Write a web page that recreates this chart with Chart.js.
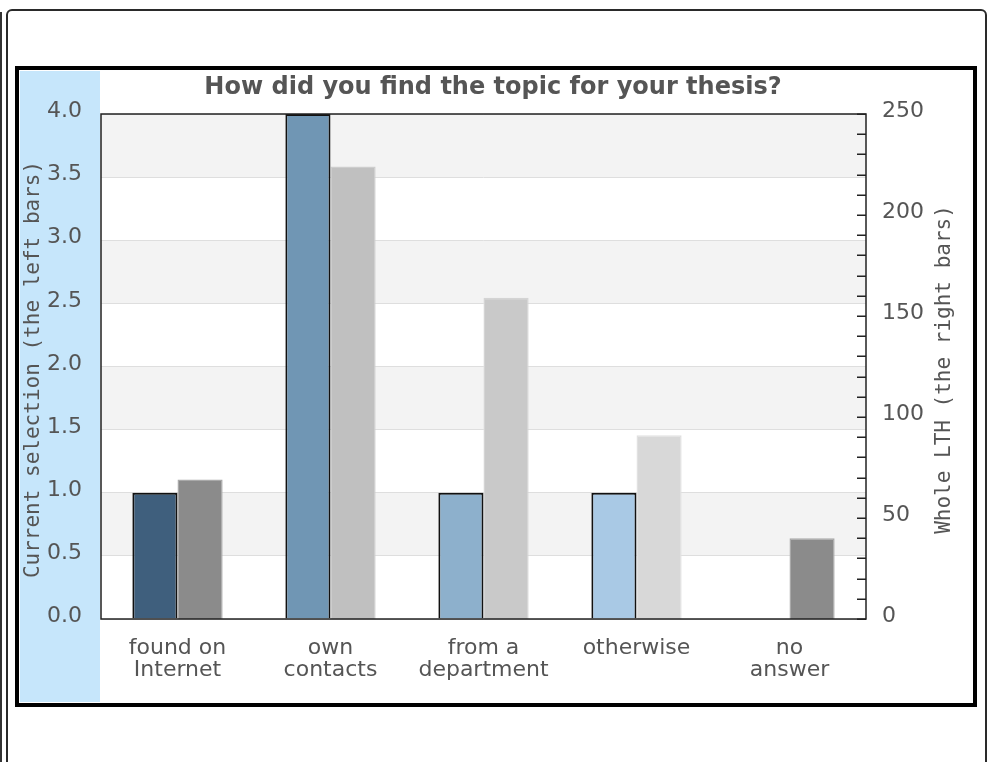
<!DOCTYPE html>
<html>
<head>
<meta charset="utf-8">
<script src="https://cdn.jsdelivr.net/npm/chart.js@4/dist/chart.umd.min.js"></script>
<style>
  html, body { margin: 0; padding: 0; background: #fff; width: 994px; height: 762px; overflow: hidden; }
  #edge { position: absolute; left: 0; top: 12px; width: 2px; height: 760px; background: #333; }
  #frame { position: absolute; left: 6px; top: 9px; width: 981px; height: 900px; box-sizing: border-box;
           border: 2px solid #2a2a2a; border-radius: 6px; }
  #box { position: absolute; left: 15px; top: 66px; width: 962px; height: 641px; box-sizing: border-box;
         border: 4px solid #000; background: #fff; }
  #band { position: absolute; left: 20px; top: 71px; width: 80px; height: 631px; background: #c6e6fb; }
  #c { position: absolute; left: 19px; top: 70px; }
</style>
</head>
<body>
<div id="edge"></div>
<div id="frame"></div>
<div id="box"></div>
<div id="band"></div>
<canvas id="c" width="954" height="633"></canvas>
<script>
// ---- data ----
const categories = [["found on", "Internet"], ["own", "contacts"], ["from a", "department"], ["otherwise"], ["no", "answer"]];
const currentSelection = [1, 4, 1, 1, 0];
const wholeLTH = [69, 224, 159, 91, 40];
const leftTickValues = [0, 0.5, 1, 1.5, 2, 2.5, 3, 3.5, 4];
const rightTickValues = [0, 50, 100, 150, 200, 250];
const rightMinorStep = 10;
const chartTitle = "How did you find the topic for your thesis?";
const leftAxisTitle = "Current selection (the left bars)";
const rightAxisTitle = "Whole LTH (the right bars)";

// ---- styles ----
const leftColors = ["#3f5f7d", "#7096b4", "#8db0cc", "#a9c9e5", "#c0d8ee"];
const rightColors = ["#8b8b8b", "#c0c0c0", "#c9c9c9", "#d8d8d8", "#8b8b8b"];
const rightBorders = ["#a9a9a9", "#cdcdcd", "#d4d4d4", "#e1e1e1", "#a9a9a9"];
const textColor = "#555555";

const decor = {
  id: "decor",
  beforeDraw(chart) {
    const ctx = chart.ctx, a = chart.chartArea, y = chart.scales.y;
    ctx.save();
    ctx.fillStyle = "#fff";
    ctx.fillRect(a.left, a.top, a.right - a.left, a.bottom - a.top);
    ctx.fillStyle = "#f3f3f3";
    for (let i = 1; i < leftTickValues.length - 1; i += 2) {
      const y0 = y.getPixelForValue(leftTickValues[i]);
      const y1 = y.getPixelForValue(leftTickValues[i + 1]);
      ctx.fillRect(a.left, y1, a.right - a.left, y0 - y1);
    }
    ctx.restore();
  },
  afterDraw(chart) {
    const ctx = chart.ctx, a = chart.chartArea, r = chart.scales.y1;
    ctx.save();
    // plot border
    ctx.strokeStyle = "#222";
    ctx.lineWidth = 1.5;
    ctx.strokeRect(a.left, a.top, a.right - a.left, a.bottom - a.top);
    // inward minor ticks on right axis
    ctx.lineWidth = 1.5;
    ctx.beginPath();
    for (let v = r.min; v <= r.max; v += rightMinorStep) {
      const py = Math.round(r.getPixelForValue(v)) + 0.25;
      ctx.moveTo(a.right - 9, py);
      ctx.lineTo(a.right, py);
    }
    ctx.stroke();
    // title
    ctx.fillStyle = textColor;
    ctx.font = 'bold 24px "DejaVu Sans"';
    ctx.textAlign = "center";
    ctx.textBaseline = "alphabetic";
    ctx.fillText(chartTitle, 474, 24);
    // axis titles
    ctx.font = '21px "DejaVu Sans Mono"';
    ctx.textBaseline = "middle";
    const cy = (a.top + a.bottom) / 2 + 3;
    ctx.save();
    ctx.translate(15, cy);
    ctx.rotate(-Math.PI / 2);
    ctx.fillText(leftAxisTitle, 0, 0);
    ctx.restore();
    ctx.save();
    ctx.translate(926, cy);
    ctx.rotate(-Math.PI / 2);
    ctx.fillText(rightAxisTitle, 0, 0);
    ctx.restore();
    ctx.restore();
  }
};

new Chart(document.getElementById("c"), {
  type: "bar",
  data: {
    labels: categories,
    datasets: [
      {
        label: "Current selection",
        data: currentSelection,
        yAxisID: "y",
        backgroundColor: leftColors,
        borderColor: "#111",
        borderWidth: 2,
        categoryPercentage: 0.59,
        barPercentage: 1.0
      },
      {
        label: "Whole LTH",
        data: wholeLTH,
        yAxisID: "y1",
        backgroundColor: rightColors,
        borderColor: rightBorders,
        borderWidth: 1.5,
        categoryPercentage: 0.59,
        barPercentage: 1.0
      }
    ]
  },
  options: {
    responsive: false,
    animation: false,
    devicePixelRatio: 1,
    layout: { padding: { top: 44, left: 0, right: 0, bottom: 0 } },
    plugins: { legend: { display: false }, title: { display: false }, tooltip: { enabled: false } },
    scales: {
      x: {
        grid: { display: false, drawTicks: false },
        border: { display: false },
        ticks: {
          color: textColor, padding: 19, autoSkip: false, maxRotation: 0, minRotation: 0,
          font: { family: "DejaVu Sans", size: 22, lineHeight: 0.98 }
        },
        afterFit(s) { s.height = 84; }
      },
      y: {
        position: "left",
        min: leftTickValues[0],
        max: leftTickValues[leftTickValues.length - 1],
        afterBuildTicks(s) { s.ticks = leftTickValues.map(v => ({ value: v })); },
        grid: { color: "#dedede", lineWidth: 1, drawTicks: false },
        border: { display: false },
        ticks: {
          color: textColor, padding: 19,
          font: { family: "DejaVu Sans", size: 22, lineHeight: "5px" },
          callback: v => [Number(v).toFixed(1), ""]
        },
        afterFit(s) { s.width = 82; }
      },
      y1: {
        position: "right",
        min: rightTickValues[0],
        max: rightTickValues[rightTickValues.length - 1],
        afterBuildTicks(s) { s.ticks = rightTickValues.map(v => ({ value: v })); },
        grid: { display: false, drawOnChartArea: false, drawTicks: false },
        border: { display: false },
        ticks: {
          color: textColor, padding: 16,
          font: { family: "DejaVu Sans", size: 22, lineHeight: "5px" },
          callback: v => [String(v), ""]
        },
        afterFit(s) { s.width = 107; }
      }
    }
  },
  plugins: [decor]
});
</script>
</body>
</html>
